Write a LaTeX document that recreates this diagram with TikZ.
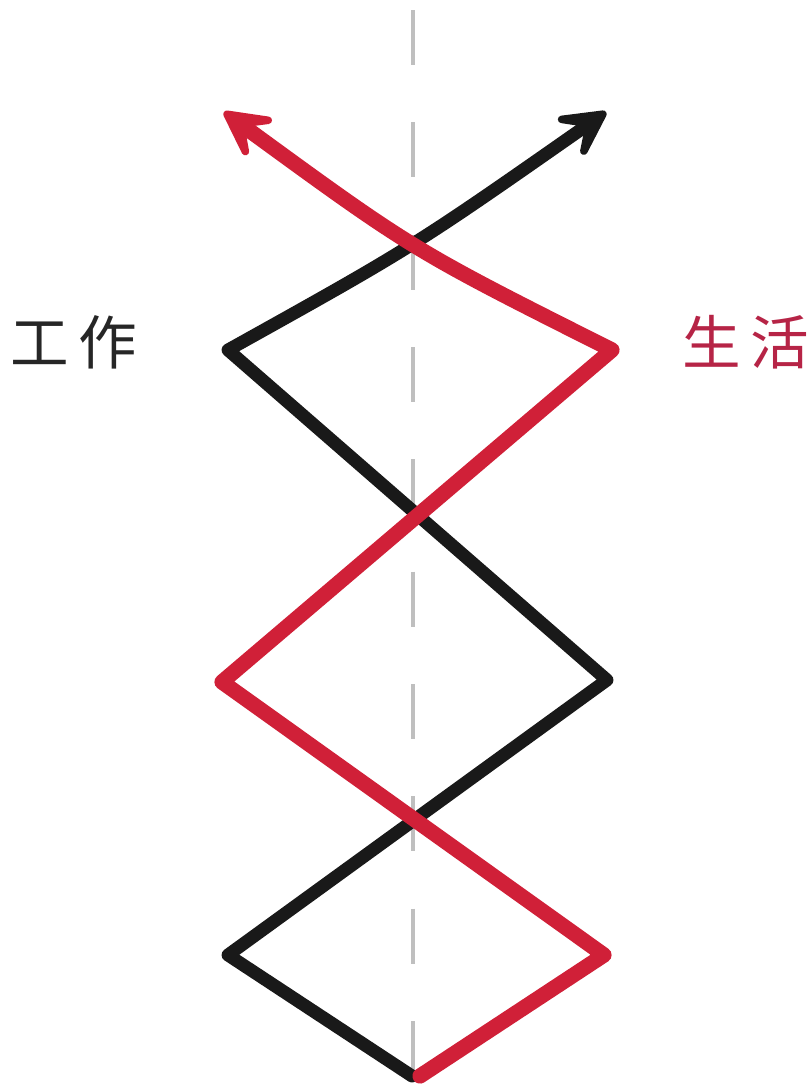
\documentclass[tikz,border=0pt]{standalone}
\usepackage{fontspec}
\newfontfamily\cjk{Noto Sans CJK SC}
\usetikzlibrary{arrows.meta}
\definecolor{lifered}{RGB}{208,32,56}
\definecolor{labelred}{RGB}{182,36,70}

\begin{document}
\begin{tikzpicture}[x=0.03cm, y=-0.03cm,
  worktrail/.style={line width=11pt, black!90, line join=round, line cap=round},
  lifetrail/.style={line width=13pt, lifered, line join=round, line cap=round},
  tipstyle/.style={-{Stealth[length=2cm, width=2.1cm, inset=1.1cm, round]}},
  midline/.style={line width=4pt, gray!50, dash pattern=on 1.65cm off 1.72cm},
  sidelabel/.style={font=\cjk\fontsize{50}{50}\selectfont}]
  \useasboundingbox (0,0) rectangle (812,1084);

  % centre line
  \draw[midline] (413,10) -- (413,1077);

  % turning points
  \coordinate (b0) at (412,1076);
  \coordinate (b1) at (228,955);
  \coordinate (b2) at (607,680);
  \coordinate (b3) at (228,350);
  \coordinate (bx) at (413,247);
  \coordinate (b4) at (606,112);
  \coordinate (r0) at (420,1076);
  \coordinate (r1) at (604,955);
  \coordinate (r2) at (222,682);
  \coordinate (r3) at (612,350);
  \coordinate (rx) at (413,250);
  \coordinate (r4) at (224,112);

  \draw[worktrail, tipstyle] (b0) -- (b1) -- (b2) -- (b3) .. controls (bx) .. (b4);
  \draw[lifetrail, tipstyle] (r0) -- (r1) -- (r2) -- (r3) .. controls (rx) .. (r4);

  \node[sidelabel, text=black!85] (work) at (74,342) {工\hspace{0.3cm}作};
  \node[sidelabel, text=labelred] (life) at (746,342) {生\hspace{0.3cm}活};
\end{tikzpicture}
\end{document}
